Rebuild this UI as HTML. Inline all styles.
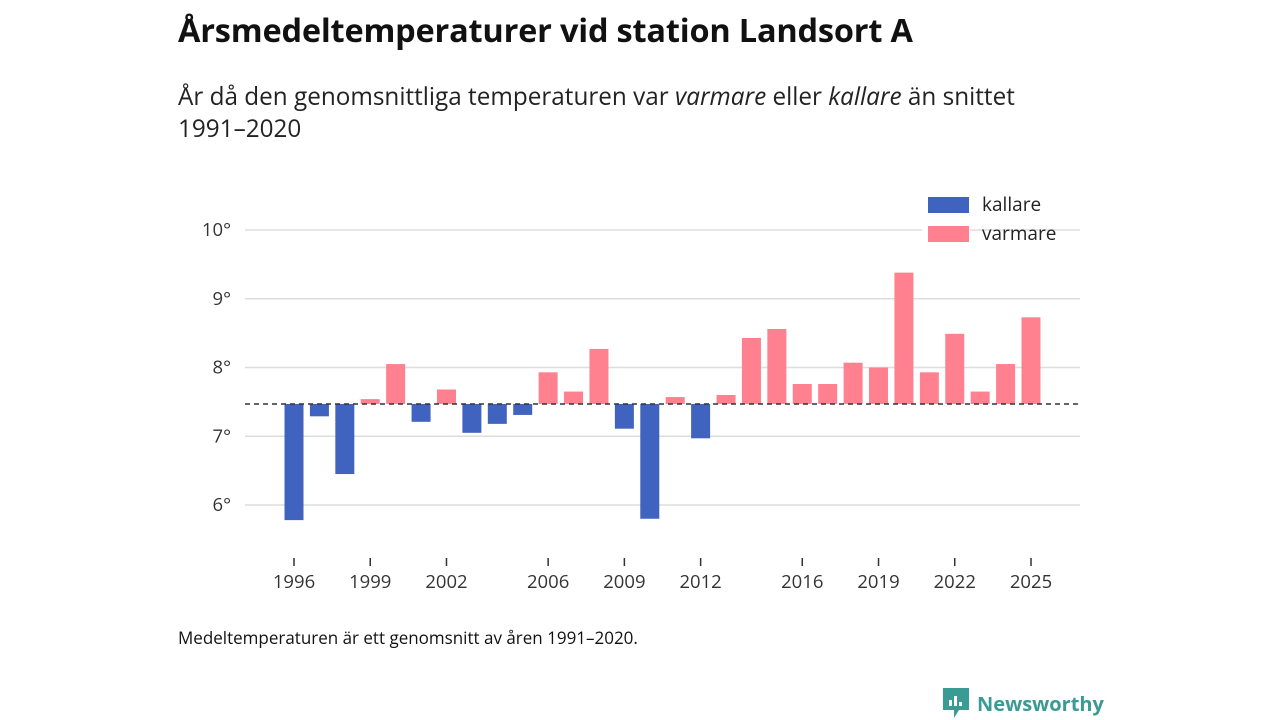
<!DOCTYPE html>
<html><head><meta charset="utf-8">
<style>
body{margin:0;width:1280px;height:720px;background:#fff;font-family:"Open Sans","Liberation Sans","DejaVu Sans",sans-serif;color:#111;overflow:hidden;position:relative}
.t{position:absolute;left:178px;top:7px;font-size:32.5px;font-weight:bold;letter-spacing:-0.2px}
.s{position:absolute;left:178px;top:81px;font-size:24.3px;line-height:32px;color:#222}
.f{position:absolute;left:178px;top:626px;font-size:17px;color:#111}
.logo{position:absolute;left:943px;top:688px;font-size:20px;font-weight:bold;color:#3a9a94;display:flex;align-items:center;gap:8px}
</style></head><body>
<div class="t">Årsmedeltemperaturer vid station Landsort A</div>
<div class="s">År då den genomsnittliga temperaturen var <i>varmare</i> eller <i>kallare</i> än snittet<br>1991–2020</div>
<svg id="chart" width="1280" height="720" style="position:absolute;left:0;top:0"></svg>
<div class="f">Medeltemperaturen är ett genomsnitt av åren 1991–2020.</div>
<div class="logo"><svg width="26" height="30" viewBox="0 0 26 30"><path d="M0 0H26V22H16L11 30V22H0Z" fill="#3a9a94"/><rect x="6" y="12" width="3" height="6" fill="#fff"/><rect x="11" y="8" width="3" height="10" fill="#fff"/><rect x="16" y="14" width="3" height="4" fill="#fff"/></svg><span>Newsworthy</span></div>
<script>
const years=[1996,1997,1998,1999,2000,2001,2002,2003,2004,2005,2006,2007,2008,2009,2010,2011,2012,2013,2014,2015,2016,2017,2018,2019,2020,2021,2022,2023,2024,2025];
const temps=[5.78,7.29,6.45,7.54,8.05,7.21,7.68,7.05,7.18,7.31,7.93,7.65,8.27,7.11,5.80,7.57,6.97,7.60,8.43,8.56,7.76,7.76,8.07,8.00,9.38,7.93,8.49,7.65,8.05,8.73];
const baseline=7.47;
const yTicks=[6,7,8,9,10];
const xTicks=[1996,1999,2002,2006,2009,2012,2016,2019,2022,2025];
const NS="http://www.w3.org/2000/svg";
const svg=document.getElementById('chart');
const x=y=>294+(y-1996)*(1031-294)/29;
const yS=v=>230+(10-v)*68.75;
function mk(t,a){const e=document.createElementNS(NS,t);for(const k in a)e.setAttribute(k,a[k]);svg.appendChild(e);return e;}
yTicks.forEach(v=>{
 const l=mk('line',{x1:245,x2:1080,y1:yS(v),y2:yS(v),stroke:'#ddd','stroke-width':1.5});
 
 
 const t=mk('text',{x:231,y:yS(v)+6,'text-anchor':'end','font-size':18.5,fill:'#333'});
 t.textContent=v+'°';
 
 
});
years.forEach((yr,i)=>{
 const v=temps[i];const top=yS(Math.max(v,baseline)),bot=yS(Math.min(v,baseline));
 const r=mk('rect',{x:x(yr)-9.5,y:top,width:19,height:Math.max(bot-top,1),fill:v<baseline?'#4063bf':'#ff818f'});
 
 
});
const bl=mk('line',{x1:245,x2:1080,y1:yS(baseline),y2:yS(baseline),stroke:'#333','stroke-width':1.5,'stroke-dasharray':'5,4'});


xTicks.forEach(yr=>{
 const l=mk('line',{x1:x(yr),x2:x(yr),y1:558,y2:566,stroke:'#333','stroke-width':1.5});
 
 
 const t=mk('text',{x:x(yr),y:588,'text-anchor':'middle','font-size':18.5,fill:'#333'});
 t.textContent=yr;
 
 
});
[['kallare','#4063bf',205],['varmare','#ff818f',234]].forEach(([n,c,yy])=>{
 mk('rect',{x:922,y:yy-13,width:48,height:18,fill:'#fff'});
 const r2=mk('rect',{x:928,y:yy-8,width:41,height:16,fill:c});
 
 
 const t=mk('text',{x:982,y:yy+6,'font-size':19,fill:'#222'});
 t.textContent=n;
 
 
});
</script>
</body></html>
